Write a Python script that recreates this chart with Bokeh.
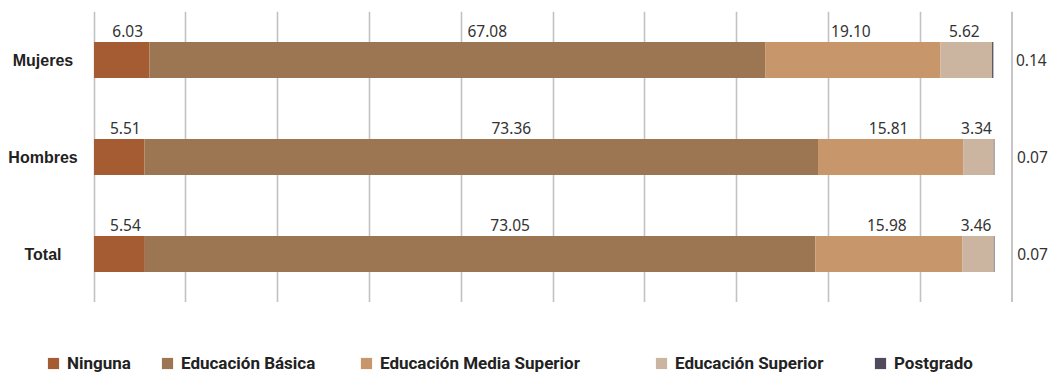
import numpy as np
from bokeh.plotting import figure
from bokeh.layouts import column
from bokeh.models import ColumnDataSource, FactorRange, Range1d, Legend, LegendItem, FixedTicker, Span
from bokeh.core.properties import value
from bokeh.embed import file_html
from bokeh.resources import INLINE

# ---- data ----
categories = ["Mujeres", "Hombres", "Total"]
series = ["Ninguna", "Educación Básica", "Educación Media Superior", "Educación Superior", "Postgrado"]
ninguna = [6.03, 5.51, 5.54]
basica = [67.08, 73.36, 73.05]
media_superior = [19.10, 15.81, 15.98]
superior = [5.62, 3.34, 3.46]
postgrado = [0.14, 0.07, 0.07]
ticks = [0, 10, 20, 30, 40, 50, 60, 70, 80, 90]
max_tick = 100

# ---- styles ----
colors = ["#a65c32", "#9c7653", "#c7966a", "#cbb4a0", "#4f4b5c"]
label_dx = [6, 30, -2, -2, 38]          # pixel nudges for value labels
legend_x = [46, 160, 359, 654, 873]      # legend item positions (px)
keys = ["ninguna", "basica", "media", "superior", "postgrado"]
values_by_series = [ninguna, basica, media_superior, superior, postgrado]

data = {"cat": categories}
for k, v in zip(keys, values_by_series):
    data[k] = v
source = ColumnDataSource(data)

W = 1053
px_per_unit = 9.18
left_px, right_px = 93.5, W - 1011.5
p = figure(width=W, height=302, output_backend="svg", toolbar_location=None,
           x_range=Range1d(-left_px / px_per_unit, max_tick + right_px / px_per_unit),
           y_range=FactorRange(factors=categories[::-1], range_padding=0),
           min_border_left=0, min_border_right=0, min_border_top=11, min_border_bottom=0,
           x_axis_location=None, y_axis_location=None)
p.outline_line_color = None
p.background_fill_color = "white"
p.border_fill_color = "white"

p.xgrid.ticker = FixedTicker(ticks=ticks)
p.xgrid.grid_line_color = "#c2c2c2"
p.xgrid.grid_line_width = 1.6
p.ygrid.visible = False
p.add_layout(Span(location=max_tick, dimension="height", line_color="#8c8c8c", line_width=1, level="underlay"))

renderers = p.hbar_stack(keys, y="cat", height=0.37, color=colors, line_color=None, source=source)

# value labels
arr = np.array(values_by_series)
cum = np.cumsum(arr, axis=0)
starts = cum - arr
for i, k in enumerate(keys):
    if k == "postgrado":
        lsrc = ColumnDataSource(dict(x=cum[i], y=categories, t=["%.2f" % v for v in arr[i]]))
        p.text(x="x", y="y", text="t", source=lsrc, x_offset=label_dx[i], text_align="center",
               text_baseline="middle", text_font=value("Noto Sans"), text_font_size="15.5px",
               text_color="#333333")
    else:
        lsrc = ColumnDataSource(dict(x=starts[i] + arr[i] / 2, y=categories,
                                     t=["%.2f" % v for v in arr[i]]))
        p.text(x="x", y="y", text="t", source=lsrc, x_offset=label_dx[i], y_offset=-29,
               text_align="center", text_baseline="alphabetic", text_font=value("Noto Sans"),
               text_font_size="15.5px", text_color="#333333")

# category labels
p.text(x=[0] * len(categories), y=categories, text=categories, x_offset=-51,
       text_align="center", text_baseline="middle", text_font=value("Liberation Sans"),
       text_font_style="bold", text_font_size="16px", text_color="#222222")

# legend strip (separate figure below the chart)
p2 = figure(width=W, height=72, output_backend="svg", toolbar_location=None,
            x_range=Range1d(0, 1), y_range=Range1d(0, 1),
            min_border_left=0, min_border_right=0, min_border_top=0, min_border_bottom=0,
            x_axis_location=None, y_axis_location=None)
p2.outline_line_color = None
p2.xgrid.visible = False
p2.ygrid.visible = False
for lab, c, lx in zip(series, colors, legend_x):
    proxy = p2.hbar(y=[-10], right=[1], height=1, color=c, line_color=None)
    leg = Legend(items=[LegendItem(label=lab, renderers=[proxy])], location=(lx, 1),
                 orientation="horizontal", border_line_color=None, background_fill_alpha=0,
                 padding=0, margin=0, spacing=0, glyph_width=14, glyph_height=14,
                 label_standoff=7, label_text_font="Roboto", label_text_font_style="bold",
                 label_text_font_size="17px", label_text_color="#222222")
    p2.add_layout(leg, "center")

layout = column(p, p2, spacing=0)
open("out.html", "w").write(file_html(layout, INLINE))
